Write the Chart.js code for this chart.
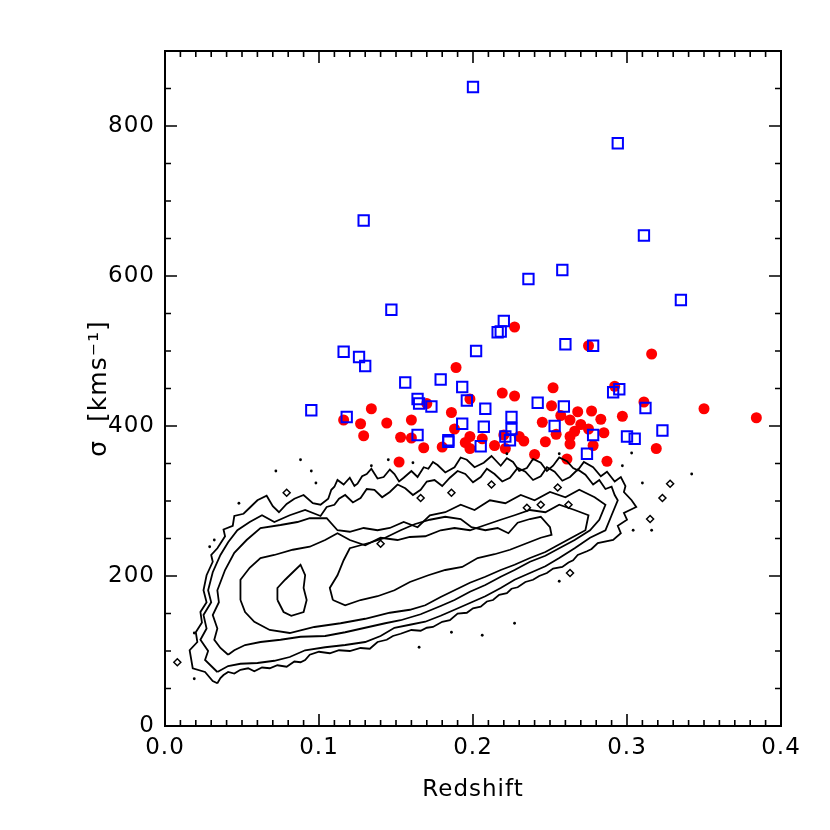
<!DOCTYPE html>
<html>
<head>
<meta charset="utf-8">
<script src="https://cdn.jsdelivr.net/npm/chart.js@4.4.1/dist/chart.umd.min.js"></script>
<style>
  html, body { margin: 0; padding: 0; background: #fff; }
  #wrap { width: 830px; height: 830px; }
</style>
</head>
<body>
<div id="wrap"><canvas id="chart" width="830" height="830"></canvas></div>
<script>
// ---------- AXES ----------
const xTicks = [0.0, 0.1, 0.2, 0.3, 0.4];
const yTicks = [0, 200, 400, 600, 800];
const xMinor = 0.01;
const yMinor = 50;

// ---------- CLUSTERS (open blue squares) : [redshift, sigma] ----------
const blueSquares = [
  [0.200, 852], [0.294, 777], [0.129, 674], [0.311, 654], [0.236, 596],
  [0.258, 608], [0.335, 568], [0.147, 555], [0.220, 540], [0.216, 525],
  [0.218, 526], [0.116, 499], [0.126, 492], [0.130, 480], [0.202, 500],
  [0.260, 509], [0.278, 507], [0.156, 458], [0.179, 462], [0.193, 452],
  [0.095, 421], [0.118, 412], [0.164, 436], [0.165, 430], [0.173, 426],
  [0.196, 434], [0.208, 423], [0.193, 403], [0.207, 399], [0.164, 388],
  [0.184, 381], [0.184, 379], [0.205, 373], [0.291, 445], [0.295, 449],
  [0.312, 424], [0.242, 431], [0.259, 426], [0.225, 412], [0.225, 396],
  [0.253, 400], [0.278, 388], [0.300, 386], [0.305, 383], [0.323, 394],
  [0.221, 386], [0.224, 381], [0.274, 363]
];

// ---------- CLUSTERS (filled red circles) ----------
const redCircles = [
  [0.189, 478], [0.198, 436], [0.170, 430], [0.134, 423], [0.186, 418],
  [0.116, 408], [0.127, 403], [0.144, 404], [0.160, 408], [0.129, 387],
  [0.153, 385], [0.160, 384], [0.188, 396], [0.198, 386], [0.206, 383],
  [0.195, 378], [0.198, 370], [0.168, 371], [0.180, 372], [0.214, 374],
  [0.152, 352], [0.227, 532], [0.275, 507], [0.316, 496], [0.292, 453],
  [0.311, 432], [0.219, 444], [0.227, 440], [0.252, 451], [0.251, 427],
  [0.257, 414], [0.268, 419], [0.277, 420], [0.283, 409], [0.297, 413],
  [0.245, 405], [0.263, 408], [0.270, 402], [0.275, 396], [0.266, 393],
  [0.263, 386], [0.285, 391], [0.254, 389], [0.230, 386], [0.233, 380],
  [0.220, 388], [0.221, 370], [0.247, 379], [0.263, 376], [0.278, 374],
  [0.240, 362], [0.261, 356], [0.287, 353], [0.319, 370], [0.350, 423],
  [0.384, 411]
];

// ---------- DENSITY CONTOURS (closed loops) ----------
const contour1 = [
  [0.034, 57], [0.031, 60], [0.026, 72], [0.018, 77], [0.016, 101], [0.021, 112],
  [0.020, 125], [0.024, 138], [0.023, 152], [0.027, 165], [0.025, 181], [0.027, 201],
  [0.031, 219], [0.030, 228], [0.034, 237], [0.039, 253], [0.038, 262], [0.044, 267],
  [0.045, 280], [0.051, 283], [0.055, 291], [0.060, 301], [0.066, 307], [0.070, 293],
  [0.074, 285], [0.079, 296], [0.084, 303], [0.090, 308], [0.096, 297], [0.101, 295],
  [0.106, 303], [0.108, 315], [0.110, 319], [0.112, 328], [0.116, 322], [0.120, 331],
  [0.123, 320], [0.125, 323], [0.128, 333], [0.131, 336], [0.134, 343], [0.138, 330],
  [0.142, 332], [0.146, 342], [0.149, 336], [0.152, 326], [0.155, 331], [0.160, 340],
  [0.164, 332], [0.168, 345], [0.171, 343], [0.174, 352], [0.177, 348], [0.182, 338],
  [0.188, 345], [0.192, 358], [0.196, 355], [0.201, 345], [0.207, 351], [0.212, 360],
  [0.218, 347], [0.222, 357], [0.226, 352], [0.230, 340], [0.235, 344], [0.239, 356],
  [0.244, 351], [0.248, 340], [0.252, 347], [0.256, 358], [0.261, 353], [0.265, 344],
  [0.268, 341], [0.272, 352], [0.278, 345], [0.283, 333], [0.287, 339], [0.292, 326],
  [0.296, 332], [0.299, 320], [0.298, 312], [0.303, 301], [0.306, 292], [0.298, 284],
  [0.300, 275], [0.294, 267], [0.296, 257], [0.291, 248], [0.281, 244], [0.277, 236],
  [0.274, 233], [0.268, 228], [0.265, 221], [0.262, 218], [0.258, 212], [0.252, 210],
  [0.248, 204], [0.243, 200], [0.239, 195], [0.234, 192], [0.229, 185], [0.225, 183],
  [0.222, 177], [0.217, 175], [0.213, 168], [0.209, 166], [0.205, 159], [0.200, 157],
  [0.196, 151], [0.190, 150], [0.185, 141], [0.180, 139], [0.174, 132], [0.170, 131],
  [0.166, 127], [0.160, 128], [0.153, 123], [0.148, 120], [0.144, 115], [0.138, 112],
  [0.133, 103], [0.127, 104], [0.120, 100], [0.113, 101], [0.107, 97], [0.100, 99],
  [0.094, 95], [0.091, 88], [0.088, 85], [0.084, 86], [0.079, 79], [0.073, 81],
  [0.068, 77], [0.063, 78], [0.058, 73], [0.054, 77], [0.049, 75], [0.045, 70],
  [0.041, 72], [0.038, 68], [0.036, 64]
];
const contour2 = [
  [0.034, 72], [0.030, 80], [0.026, 88], [0.028, 100], [0.023, 115], [0.027, 130],
  [0.025, 148], [0.030, 165], [0.028, 181], [0.031, 205], [0.036, 228], [0.041, 245],
  [0.047, 261], [0.055, 272], [0.063, 281], [0.071, 272], [0.081, 281], [0.091, 288],
  [0.101, 280], [0.105, 292], [0.110, 295], [0.113, 303], [0.117, 308], [0.122, 298],
  [0.127, 304], [0.131, 316], [0.136, 315], [0.141, 305], [0.146, 312], [0.151, 322],
  [0.156, 317], [0.161, 308], [0.166, 315], [0.170, 326], [0.175, 328], [0.180, 320],
  [0.185, 331], [0.190, 340], [0.195, 336], [0.200, 325], [0.205, 332], [0.209, 343],
  [0.214, 336], [0.219, 326], [0.224, 331], [0.229, 344], [0.234, 339], [0.239, 328],
  [0.244, 333], [0.248, 345], [0.253, 339], [0.258, 327], [0.263, 332], [0.268, 342],
  [0.273, 335], [0.278, 322], [0.282, 328], [0.286, 316], [0.290, 319], [0.292, 308],
  [0.294, 301], [0.290, 281], [0.286, 261], [0.276, 251], [0.266, 237], [0.256, 224],
  [0.247, 213], [0.237, 204], [0.227, 195], [0.218, 184], [0.208, 173], [0.198, 164],
  [0.188, 155], [0.179, 147], [0.169, 139], [0.159, 135], [0.149, 131], [0.140, 120],
  [0.130, 112], [0.117, 108], [0.104, 105], [0.091, 101], [0.081, 92], [0.071, 87],
  [0.060, 84], [0.049, 83], [0.041, 80]
];
const contour3 = [
  [0.041, 95], [0.036, 104], [0.032, 115], [0.034, 130], [0.031, 148], [0.035, 165],
  [0.034, 181], [0.039, 208], [0.045, 231], [0.053, 248], [0.062, 264], [0.075, 268],
  [0.086, 272], [0.094, 277], [0.105, 277], [0.112, 261], [0.120, 259], [0.129, 264],
  [0.138, 261], [0.146, 264], [0.155, 272], [0.164, 265], [0.172, 281], [0.182, 285],
  [0.192, 295], [0.201, 288], [0.211, 301], [0.221, 297], [0.231, 308], [0.240, 301],
  [0.250, 312], [0.260, 305], [0.269, 315], [0.279, 305], [0.286, 295], [0.282, 275],
  [0.276, 261], [0.266, 248], [0.256, 237], [0.247, 227], [0.237, 219], [0.227, 208],
  [0.218, 199], [0.208, 188], [0.198, 179], [0.188, 168], [0.179, 160], [0.166, 149],
  [0.153, 141], [0.143, 137], [0.130, 131], [0.117, 125], [0.104, 120], [0.088, 119],
  [0.075, 115], [0.062, 112], [0.052, 108], [0.045, 101]
];
const contour4 = [
  [0.049, 168], [0.049, 195], [0.055, 211], [0.062, 224], [0.071, 228], [0.083, 235],
  [0.094, 239], [0.104, 248], [0.112, 257], [0.120, 248], [0.130, 241], [0.140, 251],
  [0.151, 248], [0.159, 252], [0.169, 253], [0.179, 261], [0.188, 264], [0.198, 261],
  [0.208, 268], [0.218, 275], [0.227, 281], [0.237, 288], [0.247, 285], [0.256, 295],
  [0.266, 288], [0.275, 281], [0.273, 261], [0.264, 251], [0.255, 241], [0.247, 232],
  [0.237, 224], [0.227, 215], [0.218, 208], [0.208, 199], [0.198, 191], [0.188, 181],
  [0.179, 172], [0.169, 161], [0.159, 155], [0.146, 151], [0.130, 143], [0.114, 137],
  [0.097, 132], [0.081, 124], [0.068, 128], [0.058, 139], [0.052, 152]
];
const contour5a = [
  [0.073, 168], [0.073, 184], [0.078, 195], [0.083, 205], [0.088, 215], [0.091, 201],
  [0.090, 184], [0.092, 168], [0.090, 152], [0.082, 147], [0.077, 152]
];
const contour5b = [
  [0.109, 168], [0.107, 184], [0.112, 201], [0.116, 221], [0.120, 237], [0.127, 241],
  [0.134, 245], [0.143, 251], [0.153, 261], [0.162, 269], [0.172, 275], [0.182, 279],
  [0.192, 276], [0.199, 265], [0.208, 261], [0.216, 264], [0.223, 257], [0.229, 271],
  [0.237, 276], [0.244, 279], [0.250, 265], [0.251, 255], [0.244, 251], [0.234, 243],
  [0.224, 235], [0.214, 229], [0.203, 224], [0.193, 212], [0.182, 208], [0.171, 201],
  [0.159, 192], [0.149, 181], [0.138, 173], [0.127, 168], [0.117, 161]
];
const contours = [contour1, contour2, contour3, contour4, contour5a, contour5b];

// small closed contours (islands) and single-cell specks
const islands = [
  [0.315, 276], [0.323, 304], [0.328, 323], [0.079, 311], [0.263, 204],
  [0.235, 291], [0.244, 295], [0.262, 295], [0.186, 311], [0.166, 304],
  [0.008, 85], [0.140, 243], [0.212, 322], [0.255, 318]
];
const specks = [
  [0.088, 355], [0.072, 340], [0.095, 340], [0.098, 324], [0.048, 297],
  [0.032, 248], [0.029, 239], [0.019, 124], [0.019, 63], [0.165, 105],
  [0.186, 125], [0.134, 347], [0.145, 355], [0.161, 351], [0.227, 137],
  [0.206, 121], [0.256, 193], [0.304, 261], [0.316, 261], [0.303, 364],
  [0.297, 347], [0.310, 324], [0.342, 336], [0.222, 363], [0.256, 363]
];

// ---------- HELPERS ----------
const toPts = (arr) => arr.map(([x, y]) => ({ x, y }));
const closeLoop = (arr) => toPts(arr.concat([arr[0]]));

const FONT = "'DejaVu Sans', sans-serif";

const datasets = [];
contours.forEach((loop) => {
  datasets.push({
    data: closeLoop(loop),
    showLine: true,
    borderColor: "#000",
    borderWidth: 1.8,
    pointRadius: 0,
    tension: 0,
    fill: false,
  });
});
datasets.push({
  data: toPts(islands),
  pointStyle: "rectRot",
  pointRadius: 3.5,
  borderColor: "#000",
  backgroundColor: "#fff",
  borderWidth: 1.5,
});
datasets.push({
  data: toPts(specks),
  pointRadius: 1.4,
  borderWidth: 0,
  backgroundColor: "#000",
});
datasets.push({
  data: toPts(blueSquares),
  pointStyle: "rect",
  pointRadius: 7.3,
  borderColor: "#0000ff",
  backgroundColor: "rgba(0,0,0,0)",
  borderWidth: 2,
});
datasets.push({
  data: toPts(redCircles),
  pointStyle: "circle",
  pointRadius: 5.5,
  borderWidth: 0,
  backgroundColor: "#ff0000",
});

// a little extra glyph spacing, closer to the plotting font
const spacing = {
  id: "spacing",
  beforeDraw(chart) { chart.ctx.letterSpacing = "1px"; },
};

// frame + inward ticks on all four sides
const frameTicks = {
  id: "frameTicks",
  afterDatasetsDraw(chart) {
    const { ctx, chartArea: a, scales } = chart;
    const xs = scales.x, ys = scales.y;
    ctx.save();
    ctx.strokeStyle = "#000";
    ctx.lineWidth = 2;
    ctx.strokeRect(a.left, a.top, a.right - a.left, a.bottom - a.top);
    ctx.lineWidth = 1.6;
    ctx.beginPath();
    const nx = Math.round((xs.max - xs.min) / xMinor);
    for (let i = 0; i <= nx; i++) {
      const px = xs.getPixelForValue(xs.min + i * xMinor);
      const len = i % 10 === 0 ? 12 : 6;
      ctx.moveTo(px, a.bottom); ctx.lineTo(px, a.bottom - len);
      ctx.moveTo(px, a.top); ctx.lineTo(px, a.top + len);
    }
    const ny = Math.round((ys.max - ys.min) / yMinor);
    for (let i = 0; i <= ny; i++) {
      const py = ys.getPixelForValue(ys.min + i * yMinor);
      const len = i % 4 === 0 ? 12 : 6;
      ctx.moveTo(a.left, py); ctx.lineTo(a.left + len, py);
      ctx.moveTo(a.right, py); ctx.lineTo(a.right - len, py);
    }
    ctx.stroke();
    ctx.restore();
  },
};

new Chart(document.getElementById("chart"), {
  type: "scatter",
  data: { datasets },
  options: {
    responsive: false,
    animation: false,
    events: [],
    layout: { padding: { left: 0, top: 51, right: 49, bottom: 0 } },
    plugins: { legend: { display: false }, tooltip: { enabled: false } },
    scales: {
      x: {
        type: "linear",
        min: 0,
        max: 0.4,
        afterBuildTicks: (s) => { s.ticks = xTicks.map((v) => ({ value: v })); },
        afterFit: (s) => { s.height = 104; },
        grid: { display: false, drawTicks: false, tickLength: 0 },
        border: { display: false },
        ticks: {
          color: "#000",
          padding: 8,
          maxRotation: 0,
          font: { family: FONT, size: 23 },
          callback: (v) => Number(v).toFixed(1),
        },
        title: {
          display: true,
          text: "Redshift",
          color: "#000",
          font: { family: FONT, size: 23 },
          padding: { top: 0, bottom: 26 },
        },
      },
      y: {
        type: "linear",
        min: 0,
        max: 900,
        afterBuildTicks: (s) => { s.ticks = yTicks.map((v) => ({ value: v })); },
        afterFit: (s) => { s.width = 165; },
        grid: { display: false, drawTicks: false, tickLength: 0 },
        border: { display: false },
        ticks: {
          color: "#000",
          padding: 10,
          font: { family: FONT, size: 23 },
        },
        title: {
          display: true,
          text: "σ  [kms⁻¹]",
          color: "#000",
          font: { family: FONT, size: 25 },
          padding: { top: 84, bottom: 0 },
        },
      },
    },
  },
  plugins: [spacing, frameTicks],
});
</script>
</body>
</html>
